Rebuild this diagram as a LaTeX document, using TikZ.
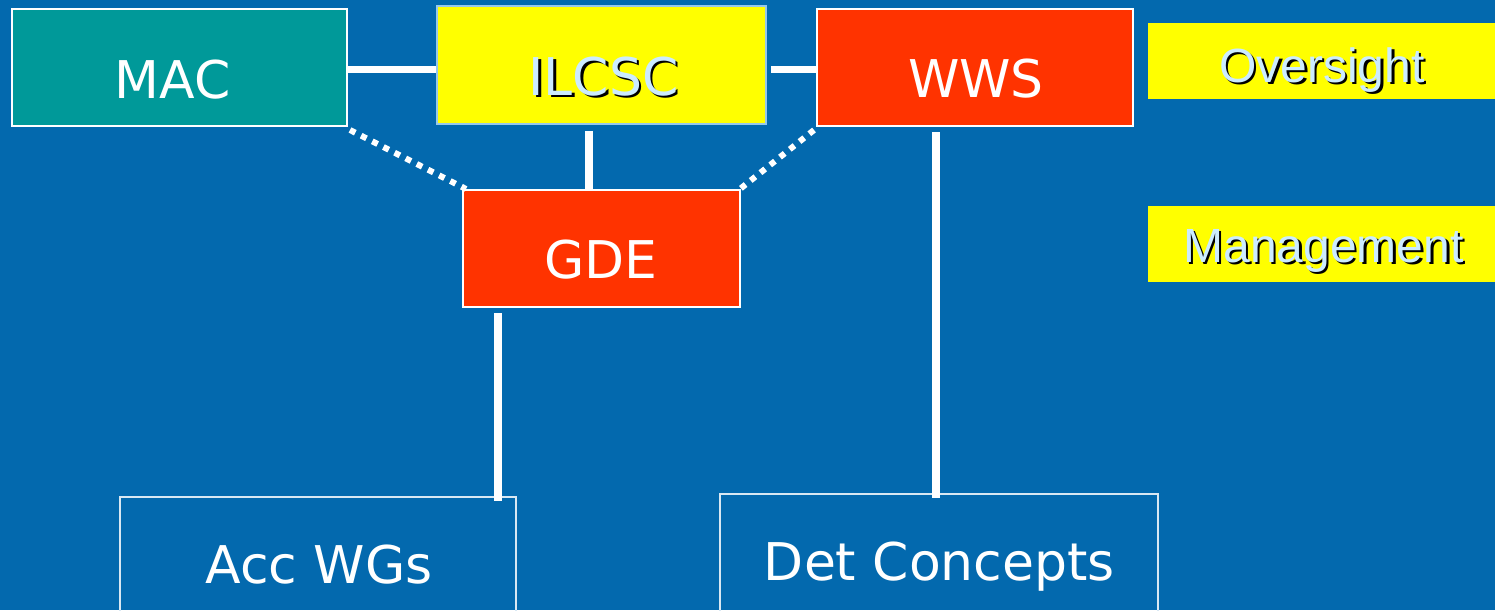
\documentclass[tikz,border=0pt]{standalone}
\usepackage{fontspec}
\setmainfont{DejaVu Sans}
\newfontfamily\arialf{Liberation Sans}
\definecolor{bgblue}{RGB}{3,105,174}
\definecolor{tealbox}{RGB}{0,153,153}
\definecolor{redbox}{RGB}{255,51,0}
\definecolor{yelbox}{RGB}{255,255,0}
\definecolor{lightcyan}{RGB}{204,236,255}
\definecolor{paleedge}{RGB}{150,200,235}
\newcommand{\shtxt}[1]{\makebox[0pt][l]{\hspace{2.5pt}\raisebox{-2.5pt}[0pt][0pt]{\textcolor{black}{#1}}}\textcolor{lightcyan}{#1}}
\begin{document}
\begin{tikzpicture}[x=1pt,y=-1pt,
  box/.style={draw=white, line width=2pt, inner sep=0pt},
  lbl/.style={anchor=base, inner sep=0pt, text=white, font=\fontsize{52}{56}\selectfont},
  tag/.style={anchor=base, inner sep=0pt, font=\arialf\fontsize{48}{52}\selectfont},
  conn/.style={draw=white, line width=8pt},
  hconn/.style={draw=white, line width=7pt},
  dotconn/.style={draw=white, line width=6pt, dash pattern=on 6pt off 6.5pt}]
\useasboundingbox (0,0) rectangle (1495,610);
\fill[bgblue] (0,0) rectangle (1495,610);

% boxes
\node[box, fill=tealbox, minimum width=335pt, minimum height=117pt] (mac) at (179.5,67.5) {};
\node[box, fill=yelbox, draw=paleedge, line width=1.5pt, minimum width=329pt, minimum height=118pt] (ilcsc) at (601.5,65) {};
\node[box, fill=redbox, minimum width=316pt, minimum height=117pt] (wws) at (975,67.5) {};
\node[box, fill=redbox, minimum width=277pt, minimum height=117pt] (gde) at (601.5,248.5) {};
\node[box, draw=white!85!bgblue, line width=1.5pt, anchor=north, minimum width=396pt, minimum height=150pt] (acc) at (318,496) {};
\node[box, draw=white!85!bgblue, line width=1.5pt, anchor=north, minimum width=438pt, minimum height=150pt] (det) at (939,493) {};
\node[fill=yelbox, inner sep=0pt, anchor=north west, minimum width=360pt, minimum height=76pt] (ovbox) at (1148,23) {};
\node[fill=yelbox, inner sep=0pt, anchor=north west, minimum width=360pt, minimum height=76pt] (mgbox) at (1148,206) {};

% connectors
\draw[hconn] (mac.east |- 0,69) -- (ilcsc.west |- 0,69);
\draw[hconn] ([xshift=4pt]ilcsc.east |- 0,69) -- (wws.west |- 0,69);
\draw[conn] ([xshift=-12.5pt,yshift=-6pt]ilcsc.south) -- ([xshift=-12.5pt]gde.north);
\draw[conn] ([xshift=-103.5pt,yshift=-5pt]gde.south) -- ([xshift=-103.5pt,yshift=-5pt]gde.south |- acc.north);
\draw[conn] ([xshift=-39pt,yshift=-5pt]wws.south) -- ([xshift=-39pt,yshift=-5pt]wws.south |- det.north);
\draw[dotconn] ([xshift=2pt,yshift=-3pt]mac.south east) -- ([xshift=4pt]gde.north west);
\draw[dotconn] ([xshift=-2pt,yshift=-3pt]wws.south west) -- ([xshift=-1pt]gde.north east);

% labels
\node[lbl] (mact) at (172.5,98) {MAC};
\node[lbl] (ilcsct) at (603.5,95) {\shtxt{ILCSC}};
\node[lbl] (wwst) at (976,97) {WWS};
\node[lbl] (gdet) at (601,278) {GDE};
\node[lbl] (acct) at (319,583) {Acc WGs};
\node[lbl] (dett) at (939.5,580) {Det Concepts};
\node[tag] (ovt) at (1322,82) {\shtxt{Oversight}};
\node[tag] (mgt) at (1323.5,262) {\shtxt{Management}};
\end{tikzpicture}
\end{document}
